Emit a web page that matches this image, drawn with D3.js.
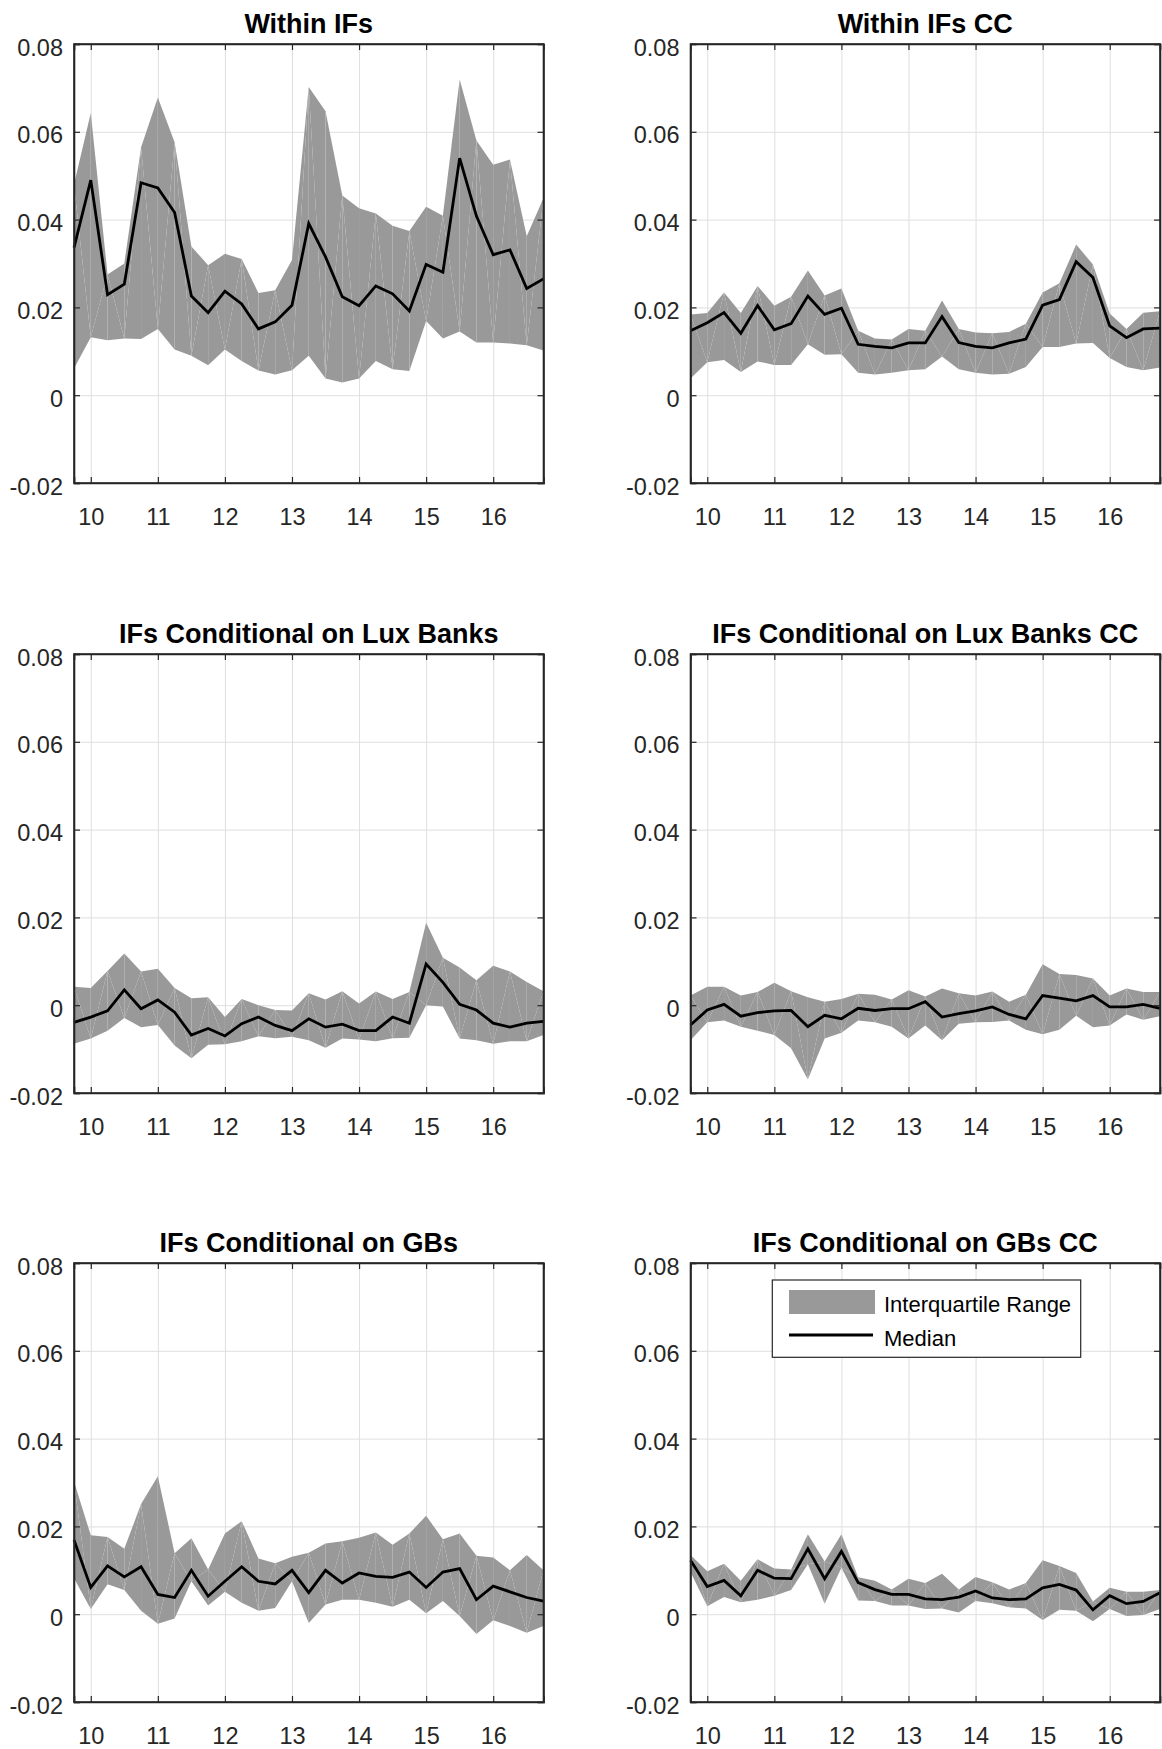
<!DOCTYPE html>
<html>
<head>
<meta charset="utf-8">
<script src="https://cdn.jsdelivr.net/npm/d3@7"></script>
<style>
  body { margin: 0; background: #fff; }
  svg { display: block; font-family: "Liberation Sans", Arial, Helvetica, sans-serif; }
</style>
</head>
<body>
<svg id="chart" width="1162" height="1749"></svg>
<script>
// quarterly observations, 2009Q4 .. 2016Q4 (x axis in years, 2-digit)
const quarters = [9.75,10,10.25,10.5,10.75,11,11.25,11.5,11.75,12,12.25,12.5,12.75,13,13.25,13.5,13.75,14,14.25,14.5,14.75,15,15.25,15.5,15.75,16,16.25,16.5,16.75];
const yearTicks = [10,11,12,13,14,15,16];
const valueTicks = [-0.02,0,0.02,0.04,0.06,0.08];

const titles = ["Within IFs","Within IFs CC","IFs Conditional on Lux Banks","IFs Conditional on Lux Banks CC","IFs Conditional on GBs","IFs Conditional on GBs CC"];

const withinMed = [0.0336,0.049,0.0229,0.0253,0.0484,0.0472,0.0416,0.0226,0.0188,0.0237,0.0208,0.0151,0.0167,0.0205,0.0391,0.0315,0.0224,0.0204,0.0249,0.0231,0.0192,0.0298,0.028,0.054,0.0408,0.032,0.0331,0.0243,0.0265];
const withinHi  = [0.048,0.0643,0.0275,0.030,0.0565,0.0678,0.0576,0.0339,0.0296,0.0322,0.031,0.0233,0.0239,0.0308,0.0702,0.0647,0.0455,0.0426,0.0414,0.0386,0.0374,0.0429,0.0409,0.0719,0.058,0.0525,0.0537,0.0362,0.0449];
const withinLo  = [0.0061,0.0132,0.0125,0.0129,0.0128,0.0151,0.0104,0.009,0.0068,0.0104,0.0078,0.0056,0.0047,0.0057,0.009,0.0038,0.0029,0.0038,0.0078,0.0059,0.0055,0.0169,0.0129,0.0145,0.012,0.012,0.0118,0.0114,0.0102];

const ccMed = [0.0147,0.0165,0.0188,0.0141,0.0204,0.0149,0.0163,0.0226,0.0184,0.0198,0.0116,0.0111,0.0108,0.0119,0.0119,0.0179,0.012,0.0111,0.0108,0.0119,0.0128,0.0205,0.0218,0.0304,0.0268,0.0158,0.0131,0.0151,0.0153];
const ccHi  = [0.0184,0.0187,0.0234,0.0187,0.0249,0.0204,0.0224,0.0284,0.0227,0.0243,0.0147,0.0129,0.0127,0.0151,0.0147,0.0216,0.0151,0.0143,0.0141,0.0144,0.0163,0.0234,0.0255,0.0343,0.0298,0.0186,0.0151,0.0188,0.0191];
const ccLo  = [0.0038,0.0075,0.008,0.0053,0.0077,0.0069,0.0069,0.0116,0.0092,0.0093,0.0051,0.0047,0.0051,0.0057,0.0059,0.0088,0.0059,0.0051,0.0047,0.0049,0.0064,0.011,0.011,0.0118,0.0119,0.0085,0.0064,0.0057,0.0063];

const luxMed = [-0.0039,-0.0027,-0.0013,0.0035,-0.0008,0.0012,-0.0016,-0.0068,-0.0053,-0.007,-0.0042,-0.0027,-0.0046,-0.0058,-0.0031,-0.005,-0.0043,-0.0058,-0.0058,-0.0027,-0.0041,0.0094,0.0052,0.0002,-0.0011,-0.0041,-0.005,-0.0041,-0.0037];
const luxHi  = [0.0042,0.0039,0.0078,0.0118,0.0077,0.0083,0.0039,0.0016,0.0018,-0.0027,0.0014,0,-0.0011,-0.0012,0.0027,0.0013,0.0032,0.0004,0.0031,0.0014,0.003,0.0188,0.0108,0.0086,0.0057,0.009,0.0077,0.0053,0.0032];
const luxLo  = [-0.0088,-0.0076,-0.0058,-0.0029,-0.005,-0.0045,-0.0092,-0.0121,-0.009,-0.0089,-0.0082,-0.0071,-0.0075,-0.0072,-0.008,-0.0097,-0.0076,-0.0078,-0.0082,-0.0075,-0.0074,0,-0.0003,-0.0076,-0.008,-0.0088,-0.0082,-0.0082,-0.0068];

const luxCCMed = [-0.0045,-0.0011,0.0002,-0.0025,-0.0017,-0.0013,-0.0012,-0.0049,-0.0023,-0.0031,-0.0007,-0.0012,-0.0008,-0.0008,0.0008,-0.0027,-0.0019,-0.0013,-0.0004,-0.0021,-0.0031,0.0022,0.0016,0.001,0.0022,-0.0004,-0.0004,0.0002,-0.0007];
const luxCCHi  = [0.0022,0.0042,0.0042,0.0022,0.003,0.0051,0.0032,0.0018,0.0008,0.0014,0.0026,0.0024,0.0013,0.0034,0.002,0.0038,0.0027,0.0022,0.0031,0.0008,0.0024,0.0093,0.0071,0.0069,0.0061,0.0022,0.0038,0.003,0.003];
const luxCCLo  = [-0.008,-0.0039,-0.0035,-0.0049,-0.0058,-0.0068,-0.0098,-0.0169,-0.0076,-0.0063,-0.0035,-0.0039,-0.0049,-0.0076,-0.0046,-0.008,-0.0042,-0.0039,-0.0038,-0.0035,-0.0056,-0.0066,-0.0056,-0.0024,-0.005,-0.0046,-0.0021,-0.0033,-0.0025];

const gbMed = [0.0169,0.0061,0.011,0.0085,0.0108,0.0045,0.0038,0.01,0.0041,0.0075,0.0108,0.0075,0.0069,0.01,0.0049,0.01,0.0071,0.0094,0.0086,0.0084,0.0096,0.0061,0.0096,0.0104,0.0033,0.0064,0.0051,0.0038,0.003];
const gbHi  = [0.0302,0.018,0.0176,0.0149,0.0251,0.0314,0.0139,0.0173,0.0102,0.0184,0.0212,0.0127,0.0116,0.0131,0.014,0.0161,0.0166,0.0174,0.0186,0.0158,0.0184,0.0224,0.0171,0.0184,0.0133,0.0129,0.01,0.0135,0.01];
const gbLo  = [0.0082,0.0012,0.0068,0.0055,0.0008,-0.0022,-0.001,0.0075,0.002,0.0051,0.0026,0.0008,0.0014,0.0075,-0.002,0.0022,0.0033,0.0033,0.0026,0.0017,0.0033,0.0002,0.003,-0.0004,-0.0045,-0.0014,-0.0027,-0.0042,-0.0027];

const gbCCMed = [0.0123,0.0063,0.0077,0.0042,0.01,0.0082,0.0081,0.0149,0.0081,0.0143,0.0072,0.0056,0.0045,0.0045,0.0035,0.0033,0.0039,0.0053,0.0037,0.0033,0.0035,0.006,0.0068,0.0055,0.001,0.0042,0.0024,0.0029,0.0049];
const gbCCHi  = [0.0135,0.0098,0.0115,0.0076,0.0125,0.0104,0.0102,0.0182,0.012,0.0182,0.0084,0.0076,0.0056,0.0081,0.0071,0.0092,0.0056,0.0085,0.0073,0.0056,0.0071,0.0123,0.011,0.0094,0.0029,0.006,0.0051,0.0051,0.0055];
const gbCCLo  = [0.0096,0.0018,0.0039,0.0027,0.0033,0.0042,0.0055,0.0114,0.0024,0.0106,0.0031,0.003,0.002,0.002,0.0012,0.0013,0.0004,0.003,0.0025,0.0016,0.0013,-0.0013,0.001,0.0008,-0.0016,0.0012,-0.0004,-0.0002,0.0012];

const panels = [
  { med: withinMed, hi: withinHi, lo: withinLo },
  { med: ccMed, hi: ccHi, lo: ccLo },
  { med: luxMed, hi: luxHi, lo: luxLo },
  { med: luxCCMed, hi: luxCCHi, lo: luxCCLo },
  { med: gbMed, hi: gbHi, lo: gbLo },
  { med: gbCCMed, hi: gbCCHi, lo: gbCCLo }
];

// layout
const colLeft = [74, 690.5];
const rowTop = [44, 654, 1263];
const W = 469.5, H = 439;
const axisColor = "#262626";

const svg = d3.select("#chart");

panels.forEach((p, k) => {
  const col = k % 2, row = Math.floor(k / 2);

  const x = d3.scaleLinear().domain([9.75, 16.75]).range([0, W]);
  const y = d3.scaleLinear().domain([-0.02, 0.08]).range([H, 0]);

  const g = svg.append("g")
    .attr("transform", `translate(${colLeft[col]},${rowTop[row]})`);

  // grid
  g.append("g")
    .attr("transform", `translate(0,${H})`)
    .call(d3.axisBottom(x).tickValues(yearTicks).tickSize(-H).tickFormat(""))
    .call(s => s.select(".domain").remove())
    .call(s => s.selectAll("line").attr("stroke", "#dfdfdf"));
  g.append("g")
    .call(d3.axisLeft(y).tickValues(valueTicks).tickSize(-W).tickFormat(""))
    .call(s => s.select(".domain").remove())
    .call(s => s.selectAll("line").attr("stroke", "#dfdfdf"));

  // interquartile band, as triangles (gives the faint seams of the original)
  const pts = quarters.map((q, i) => ({ x: x(q), u: y(p.hi[i]), l: y(p.lo[i]) }));
  const tris = [];
  for (let i = 0; i < pts.length - 1; i++) {
    const a = pts[i], b = pts[i + 1];
    if (i % 2 === 0) {
      tris.push([[a.x, a.u], [b.x, b.u], [b.x, b.l]]);
      tris.push([[a.x, a.u], [b.x, b.l], [a.x, a.l]]);
    } else {
      tris.push([[a.x, a.l], [a.x, a.u], [b.x, b.u]]);
      tris.push([[a.x, a.l], [b.x, b.u], [b.x, b.l]]);
    }
  }
  g.append("g")
    .selectAll("path")
    .data(tris)
    .enter()
    .append("path")
      .attr("d", t => d3.line()(t) + "Z")
      .attr("fill", "#999999");

  // median
  g.append("path")
    .datum(quarters.map((q, i) => [q, p.med[i]]))
    .attr("fill", "none")
    .attr("stroke", "#000")
    .attr("stroke-width", 2.8)
    .attr("stroke-linejoin", "miter")
    .attr("d", d3.line().x(d => x(d[0])).y(d => y(d[1])));

  // axes with inward ticks
  const bottom = g.append("g")
    .attr("transform", `translate(0,${H})`)
    .call(d3.axisBottom(x).tickValues(yearTicks).tickSize(-6).tickPadding(25).tickFormat(d3.format("d")));
  const left = g.append("g")
    .call(d3.axisLeft(y).tickValues(valueTicks).tickSize(-6).tickPadding(11)
      .tickFormat(d => d === 0 ? "0" : d.toFixed(2)));
  const top = g.append("g")
    .call(d3.axisTop(x).tickValues(yearTicks).tickSize(-6).tickFormat(""));
  const right = g.append("g")
    .attr("transform", `translate(${W},0)`)
    .call(d3.axisRight(y).tickValues(valueTicks).tickSize(-6).tickFormat(""));

  [bottom, left, top, right].forEach(a => {
    a.select(".domain").attr("stroke", axisColor).attr("stroke-width", 1.6);
    a.selectAll(".tick line").attr("stroke", axisColor).attr("stroke-width", 1.2);
    a.selectAll("text")
      .attr("fill", axisColor)
      .style("font-size", "23.5px")
      .style("font-family", '"Liberation Sans", Arial, sans-serif');
  });
  left.selectAll("text").attr("dy", "0.47em");

  g.append("rect")
    .attr("width", W).attr("height", H)
    .attr("fill", "none")
    .attr("stroke", axisColor)
    .attr("stroke-width", 1.6);

  // title
  g.append("text")
    .attr("x", W / 2)
    .attr("y", -11.5)
    .attr("text-anchor", "middle")
    .attr("font-size", 27)
    .attr("font-weight", "bold")
    .attr("fill", "#000")
    .text(titles[k]);

  // legend in the last panel
  if (k === 5) {
    const lg = g.append("g").attr("transform", "translate(81.8,17)");
    lg.append("rect")
      .attr("width", 308.4).attr("height", 77.3)
      .attr("fill", "#fff")
      .attr("stroke", axisColor)
      .attr("stroke-width", 1.2);
    lg.append("rect")
      .attr("x", 16.7).attr("y", 10)
      .attr("width", 86).attr("height", 24)
      .attr("fill", "#999999");
    lg.append("line")
      .attr("x1", 16.7).attr("x2", 100.7)
      .attr("y1", 55).attr("y2", 55)
      .attr("stroke", "#000").attr("stroke-width", 2.8);
    lg.append("text")
      .attr("x", 111.7).attr("y", 31.7)
      .attr("font-size", 22).attr("fill", "#000")
      .text("Interquartile Range");
    lg.append("text")
      .attr("x", 111.7).attr("y", 66)
      .attr("font-size", 22).attr("fill", "#000")
      .text("Median");
  }
});
</script>
</body>
</html>
